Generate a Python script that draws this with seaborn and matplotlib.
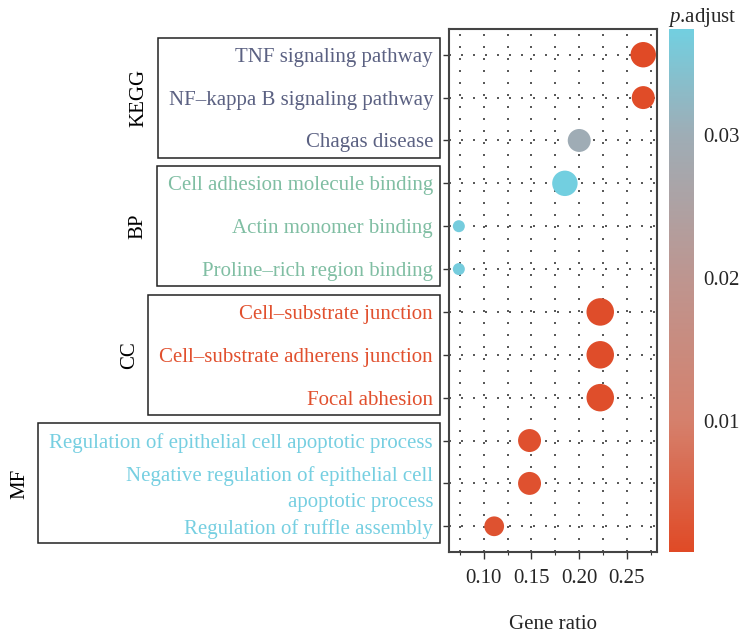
import numpy as np
import pandas as pd
import matplotlib
matplotlib.use("Agg")
import matplotlib.pyplot as plt
import seaborn as sns
from matplotlib.colors import LinearSegmentedColormap, Normalize
from matplotlib.cm import ScalarMappable
from matplotlib.patches import Rectangle

# ---- enrichment results -------------------------------------------------
terms = [
    "TNF signaling pathway",
    "NF\u2013kappa B signaling pathway",
    "Chagas disease",
    "Cell adhesion molecule binding",
    "Actin monomer binding",
    "Proline\u2013rich region binding",
    "Cell\u2013substrate junction",
    "Cell\u2013substrate adherens junction",
    "Focal abhesion",
    "Regulation of epithelial cell apoptotic process",
    "Negative regulation of epithelial cell\napoptotic process",
    "Regulation of ruffle assembly",
]
groups = ["KEGG"] * 3 + ["BP"] * 3 + ["CC"] * 3 + ["MF"] * 3
gene_ratio = [0.267, 0.267, 0.200, 0.185, 0.074, 0.074,
              0.222, 0.222, 0.222, 0.148, 0.148, 0.111]
counts = [5, 4, 4, 5, 2, 2, 6, 6, 6, 4, 4, 3]
p_adjust = [0.0008, 0.0012, 0.0298, 0.0374, 0.0368, 0.0368,
            0.0015, 0.0014, 0.0016, 0.0019, 0.0020, 0.0022]

group_order = ["KEGG", "BP", "CC", "MF"]
group_colors = {"KEGG": "#5b6182", "BP": "#80bea3", "CC": "#e1502e", "MF": "#76cfe1"}
x_major = [0.10, 0.15, 0.20, 0.25]
x_minor = [0.075, 0.125, 0.175, 0.225, 0.275]
cbar_ticks = [0.01, 0.02, 0.03]

df = pd.DataFrame({"Term": terms, "Group": groups, "GeneRatio": gene_ratio,
                   "Count": counts, "p.adjust": p_adjust})

# ---- style ---------------------------------------------------------------
DPI = 100
W, H = 748, 639
sns.set_theme(style="white")
plt.rcParams["font.family"] = ["Liberation Serif", "DejaVu Serif"]
plt.rcParams["mathtext.fontset"] = "custom"
plt.rcParams["mathtext.rm"] = "Liberation Serif"
plt.rcParams["mathtext.it"] = "Liberation Serif:italic"
FS = 15

vmin, vmax = min(p_adjust), max(p_adjust)
norm = Normalize(vmin=vmin, vmax=vmax)
cmap = LinearSegmentedColormap.from_list(
    "padj",
    [(0.00, "#e04a26"), (0.25, "#d5806c"), (0.52, "#be958f"),
     (0.80, "#9eadb6"), (1.00, "#72cfe0")])

# ggplot-like area scale: diameter grows with sqrt of the rescaled count
cmin, cmax = min(counts), max(counts)
dia_px = (12.0, 27.5)


def marker_area(c):
    frac = np.sqrt((c - cmin) / (cmax - cmin))
    d_pt = (dia_px[0] + (dia_px[1] - dia_px[0]) * frac) * 72 / DPI
    return d_pt ** 2


size_map = {c: marker_area(c) for c in sorted(set(counts))}

fig = plt.figure(figsize=(W / DPI, H / DPI), dpi=DPI)
ax_l, ax_r, ax_t, ax_b = 449, 657, 29, 552
ax = fig.add_axes([ax_l / W, 1 - ax_b / H, (ax_r - ax_l) / W, (ax_b - ax_t) / H])

sns.scatterplot(data=df, x="GeneRatio", y="Term", hue="p.adjust", palette=cmap,
                hue_norm=norm, size="Count", sizes=size_map, linewidth=0,
                legend=False, ax=ax, zorder=3)

n = len(terms)
ax.set_ylim(n - 0.4, -0.6)
ax.set_xlim(0.0637, 0.2814)
ax.set_xticks(x_major)
ax.set_xticks(x_minor, minor=True)
ax.set_xticklabels([f"{v:.2f}" for v in x_major], fontsize=FS)
ax.set_xlabel("Gene ratio", fontsize=FS, labelpad=20)
ax.set_ylabel("")

grid_kw = dict(color="#3a3a3a", linewidth=1.2, linestyle=(0, (1.2, 6.0)))
ax.grid(True, axis="x", which="both", **grid_kw)
ax.grid(True, axis="y", which="major", **grid_kw)
ax.set_axisbelow(True)

for sp in ax.spines.values():
    sp.set_color("#444444")
    sp.set_linewidth(1.5)

ax.tick_params(axis="y", which="major", length=4.5, width=1.0, color="#333333",
               pad=7, left=True, labelsize=FS)
ax.tick_params(axis="x", which="major", length=5, width=1.0, color="#333333",
               pad=7, bottom=True)
ax.tick_params(axis="x", which="minor", length=2.2, width=0.8, color="#333333",
               bottom=True)

for lab, g in zip(ax.get_yticklabels(), groups):
    lab.set_color(group_colors[g])
    lab.set_multialignment("right")
    lab.set_linespacing(1.45)

# ---- group boxes around the term labels -----------------------------------
fig.canvas.draw()
renderer = fig.canvas.get_renderer()
labels = ax.get_yticklabels()
row_px = abs(ax.transData.transform((0, 1))[1] - ax.transData.transform((0, 0))[1])
for g in group_order:
    idx = [i for i, gg in enumerate(groups) if gg == g]
    x0 = min(labels[i].get_window_extent(renderer).x0 for i in idx) - 11
    x1 = ax.transAxes.transform((0, 0))[0] - 9
    y_first = ax.transData.transform((0, idx[0]))[1]
    y_last = ax.transData.transform((0, idx[-1]))[1]
    top = y_first + 0.40 * row_px
    bot = y_last - 0.40 * row_px
    fig.patches.append(Rectangle((x0 / W, bot / H), (x1 - x0) / W, (top - bot) / H,
                                 transform=fig.transFigure, fill=False,
                                 edgecolor="#222222", linewidth=1.1))
    fig.text((x0 - 19) / W, (top + bot) / 2 / H, g, rotation=90,
             ha="center", va="center", fontsize=FS, color="black")

# ---- colour bar ----------------------------------------------------------
cax = fig.add_axes([669 / W, 1 - ax_b / H, 25 / W, (ax_b - ax_t) / H])
cb = fig.colorbar(ScalarMappable(norm=norm, cmap=cmap), cax=cax)
cb.outline.set_visible(False)
cb.set_ticks(cbar_ticks)
cb.set_ticklabels([f"{v:.2f}" for v in cbar_ticks])
cax.tick_params(axis="y", direction="in", color="white", length=5, width=1.3,
                left=True, right=True, labelleft=False, labelright=True,
                pad=7, labelsize=FS)
fig.text(668 / W, 1 - 22 / H, r"$p$.adjust", ha="left", va="baseline",
         fontsize=FS)

fig.savefig("out.png", dpi=DPI)
